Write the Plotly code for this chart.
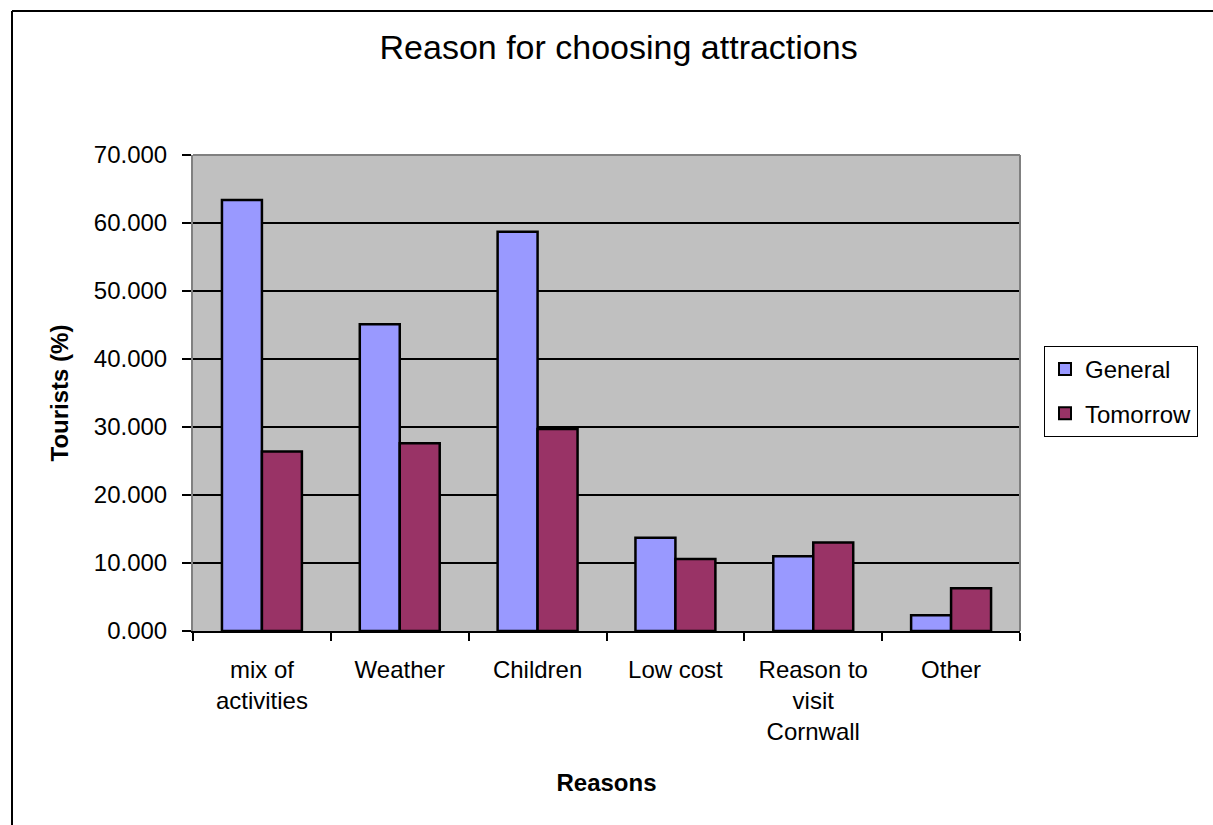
import plotly.graph_objects as go

categories = ["mix of<br>activities", "Weather", "Children", "Low cost",
              "Reason to<br>visit<br>Cornwall", "Other"]
general = [63.4, 45.1, 58.7, 13.7, 11.0, 2.3]
tomorrow = [26.4, 27.6, 29.7, 10.6, 13.0, 6.3]
y_ticks = [0, 10, 20, 30, 40, 50, 60, 70]

FONT = "Liberation Sans, Arial, sans-serif"
W, H = 1213, 825
L, R, T, B = 193, 193, 155, 194
pw, ph = W - L - R, H - T - B

def px_x(px):
    return (px - L) / pw

def px_y(py):
    return (H - B - py) / ph

fig = go.Figure()
fig.add_trace(go.Bar(x=categories, y=general, name="General",
                     marker=dict(color="#9999FF", line=dict(color="black", width=2.5)),
                     legendgroup="g1"))
fig.add_trace(go.Bar(x=categories, y=tomorrow, name="Tomorrow",
                     marker=dict(color="#993366", line=dict(color="black", width=2.5)),
                     legendgroup="g2"))

fig.update_layout(
    width=W, height=H,
    margin=dict(l=L, r=R, t=T, b=B, autoexpand=False),
    paper_bgcolor="white",
    plot_bgcolor="#C0C0C0",
    font=dict(family=FONT, size=24, color="black"),
    barmode="group", bargap=0.42, bargroupgap=0,
    title=dict(text="Reason for choosing attractions", font=dict(size=34, color="black"),
               x=0.51, xref="container", xanchor="center",
               y=1 - 47 / H, yref="container", yanchor="middle"),
    showlegend=True,
    legend=dict(x=px_x(1044), y=px_y(346), xanchor="left", yanchor="top",
                bgcolor="white", bordercolor="black", borderwidth=1,
                font=dict(size=24), traceorder="grouped", tracegroupgap=10,
                itemsizing="constant", entrywidth=122),
    xaxis=dict(
        title=dict(text="<b>Reasons</b>", font=dict(size=24), standoff=30),
        showline=True, linecolor="black", linewidth=2,
        ticks="outside", tickson="boundaries", ticklen=8, tickcolor="black", tickwidth=2,
        tickfont=dict(size=24), automargin=False, ticklabelstandoff=16,
    ),
    yaxis=dict(
        title=dict(text="<b>Tourists (%)</b>", font=dict(size=24), standoff=18),
        range=[0, 70], tickvals=y_ticks, tickformat=".3f",
        showline=True, linecolor="#808080", linewidth=2,
        showgrid=True, gridcolor="black", gridwidth=1.5,
        ticks="outside", ticklen=9, tickcolor="black", tickwidth=2,
        tickfont=dict(size=24), automargin=False, zeroline=False,
        ticklabelstandoff=10,
    ),
    shapes=[
        dict(type="line", xref="paper", yref="paper", x0=0, x1=1, y0=1, y1=1,
             line=dict(color="#808080", width=2), layer="above"),
        dict(type="line", xref="paper", yref="paper", x0=1, x1=1, y0=0, y1=1,
             line=dict(color="#808080", width=2), layer="above"),
        dict(type="line", xref="paper", yref="paper", x0=px_x(12), x1=px_x(1300),
             y0=px_y(11), y1=px_y(11), line=dict(color="black", width=2)),
        dict(type="line", xref="paper", yref="paper", x0=px_x(12), x1=px_x(12),
             y0=px_y(11), y1=px_y(900), line=dict(color="black", width=2)),
    ],
)

fig.write_html("out.html")
